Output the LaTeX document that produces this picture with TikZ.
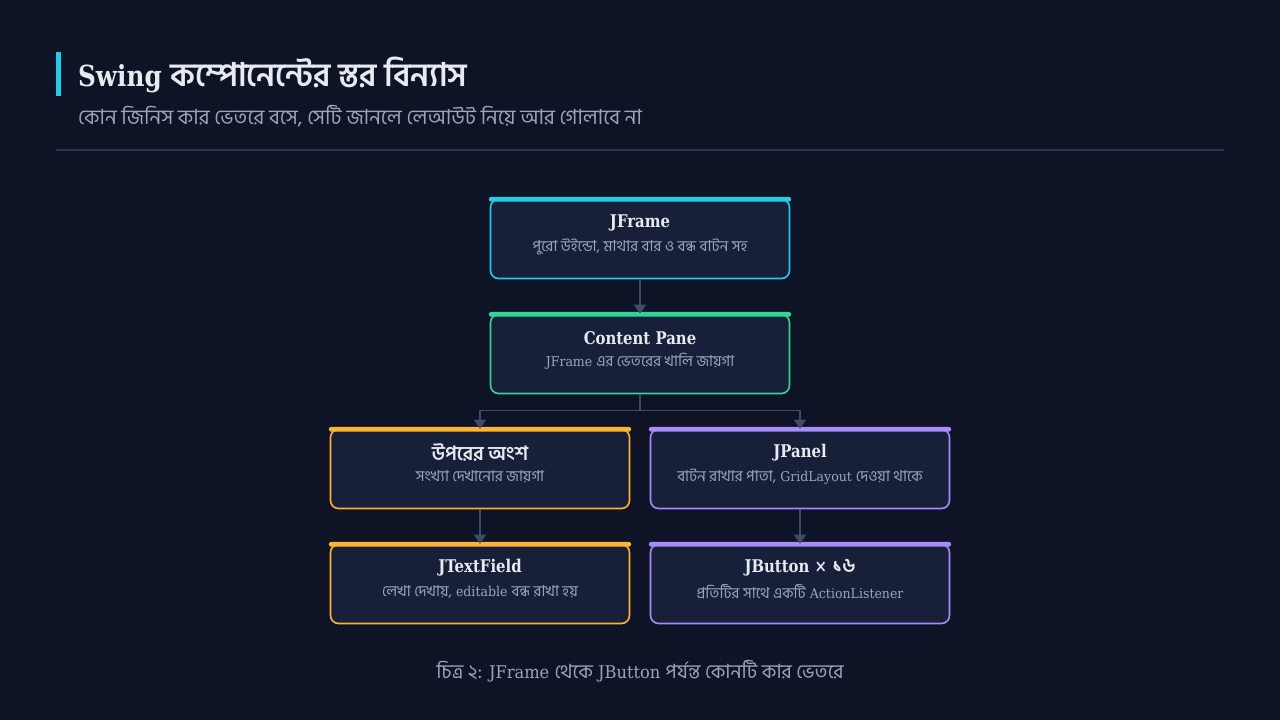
\documentclass[tikz,border=0pt]{standalone}
\usepackage{fontspec}
\setmainfont{DejaVu Serif}[UprightFeatures={FakeStretch=0.93}, BoldFeatures={FakeStretch=0.85}]
\newfontfamily\bn[Script=Bengali, Scale=1.12]{Hind Siliguri}
\usetikzlibrary{arrows.meta}
\definecolor{bg}{HTML}{0E1425}
\definecolor{cardfill}{HTML}{172038}
\definecolor{titlec}{HTML}{E6EBF2}
\definecolor{subc}{HTML}{9AA6B8}
\definecolor{rulec}{HTML}{28364E}
\definecolor{connc}{HTML}{3E4C66}
\definecolor{cyanc}{HTML}{22CBE6}
\definecolor{greenc}{HTML}{34D399}
\definecolor{amberc}{HTML}{FBB534}
\definecolor{purplec}{HTML}{A78BFA}
\tikzset{
  card/.style={draw=#1, line width=1.6pt, rounded corners=8pt, fill=cardfill,
    minimum width=299pt, minimum height=79pt, inner sep=0pt},
  cardtitle/.style={text=titlec, font=\fontsize{17.5}{20}\selectfont\bfseries, inner sep=0pt},
  cardsub/.style={text=subc, font=\fontsize{13.5}{16}\selectfont, inner sep=0pt},
  conn/.style={draw=connc, line width=1.5pt, -{Triangle[width=12pt,length=9pt]}},
}
\newcommand{\topstrip}[2]{%
  \fill[#2, rounded corners=1.5pt] ([xshift=-0.8pt,yshift=1.8pt]#1.north west) rectangle ([xshift=0.8pt,yshift=-2.8pt]#1.north east);}
\begin{document}
\begin{tikzpicture}[x=1pt,y=-1pt]
\fill[bg] (0,0) rectangle (1280,720);
\useasboundingbox (0,0) rectangle (1280,720);
% header
\fill[cyanc] (56,52) rectangle (61,96);
\node[anchor=west, inner sep=0pt, text=titlec, font=\fontsize{29}{34}\selectfont\bfseries] (title) at (78,75) {Swing {\bn কম্পোনেন্টের স্তর বিন্যাস}};
\node[anchor=west, inner sep=0pt, text=subc, font=\fontsize{18.5}{22}\selectfont\bn] (subtitle) at (78,116) {কোন জিনিস কার ভেতরে বসে, সেটি জানলে লেআউট নিয়ে আর গোলাবে না};
\draw[rulec, line width=1.5pt] (56,150) -- (1224,150);
% cards
\node[card=cyanc] (jf) at (640,239) {};
\node[card=greenc] (cp) at (640,354) {};
\node[card=amberc] (up) at (480,469) {};
\node[card=purplec] (jp) at (800,469) {};
\node[card=amberc] (tf) at (480,584) {};
\node[card=purplec] (jb) at (800,584) {};
\topstrip{jf}{cyanc}
\topstrip{cp}{greenc}
\topstrip{up}{amberc}
\topstrip{jp}{purplec}
\topstrip{tf}{amberc}
\topstrip{jb}{purplec}
% texts
\node[cardtitle] (jft) at ([yshift=-24pt]jf.north) {JFrame};
\node[cardsub] (jfs) at ([yshift=-48pt]jf.north) {\bn পুরো উইন্ডো, মাথার বার ও বন্ধ বাটন সহ};
\node[cardtitle] (cpt) at ([yshift=-24pt]cp.north) {Content Pane};
\node[cardsub] (cps) at ([yshift=-48pt]cp.north) {JFrame {\bn এর ভেতরের খালি জায়গা}};
\node[cardtitle] (upt) at ([yshift=-24pt]up.north) {\bn উপরের অংশ};
\node[cardsub] (ups) at ([yshift=-48pt]up.north) {\bn সংখ্যা দেখানোর জায়গা};
\node[cardtitle] (jpt) at ([yshift=-24pt]jp.north) {JPanel};
\node[cardsub] (jps) at ([yshift=-48pt]jp.north) {{\bn বাটন রাখার পাতা,} GridLayout {\bn দেওয়া থাকে}};
\node[cardtitle] (tft) at ([yshift=-24pt]tf.north) {JTextField};
\node[cardsub] (tfs) at ([yshift=-48pt]tf.north) {{\bn লেখা দেখায়,} editable {\bn বন্ধ রাখা হয়}};
\node[cardtitle] (jbt) at ([yshift=-24pt]jb.north) {JButton × {\bn ১৬}};
\node[cardsub] (jbs) at ([yshift=-48pt]jb.north) {{\bn প্রতিটির সাথে একটি} ActionListener};
% connectors
\draw[conn] (jf.south) -- (cp.north);
\draw[conn] (cp.south) -- ++(0,16) -| (up.north);
\draw[conn] (cp.south) -- ++(0,16) -| (jp.north);
\draw[conn] (up.south) -- (tf.north);
\draw[conn] (jp.south) -- (jb.north);
% caption
\node[text=subc, font=\fontsize{17.5}{21}\selectfont, inner sep=0pt] (caption) at (640,671) {{\bn চিত্র ২:} JFrame {\bn থেকে} JButton {\bn পর্যন্ত কোনটি কার ভেতরে}};
\end{tikzpicture}
\end{document}
